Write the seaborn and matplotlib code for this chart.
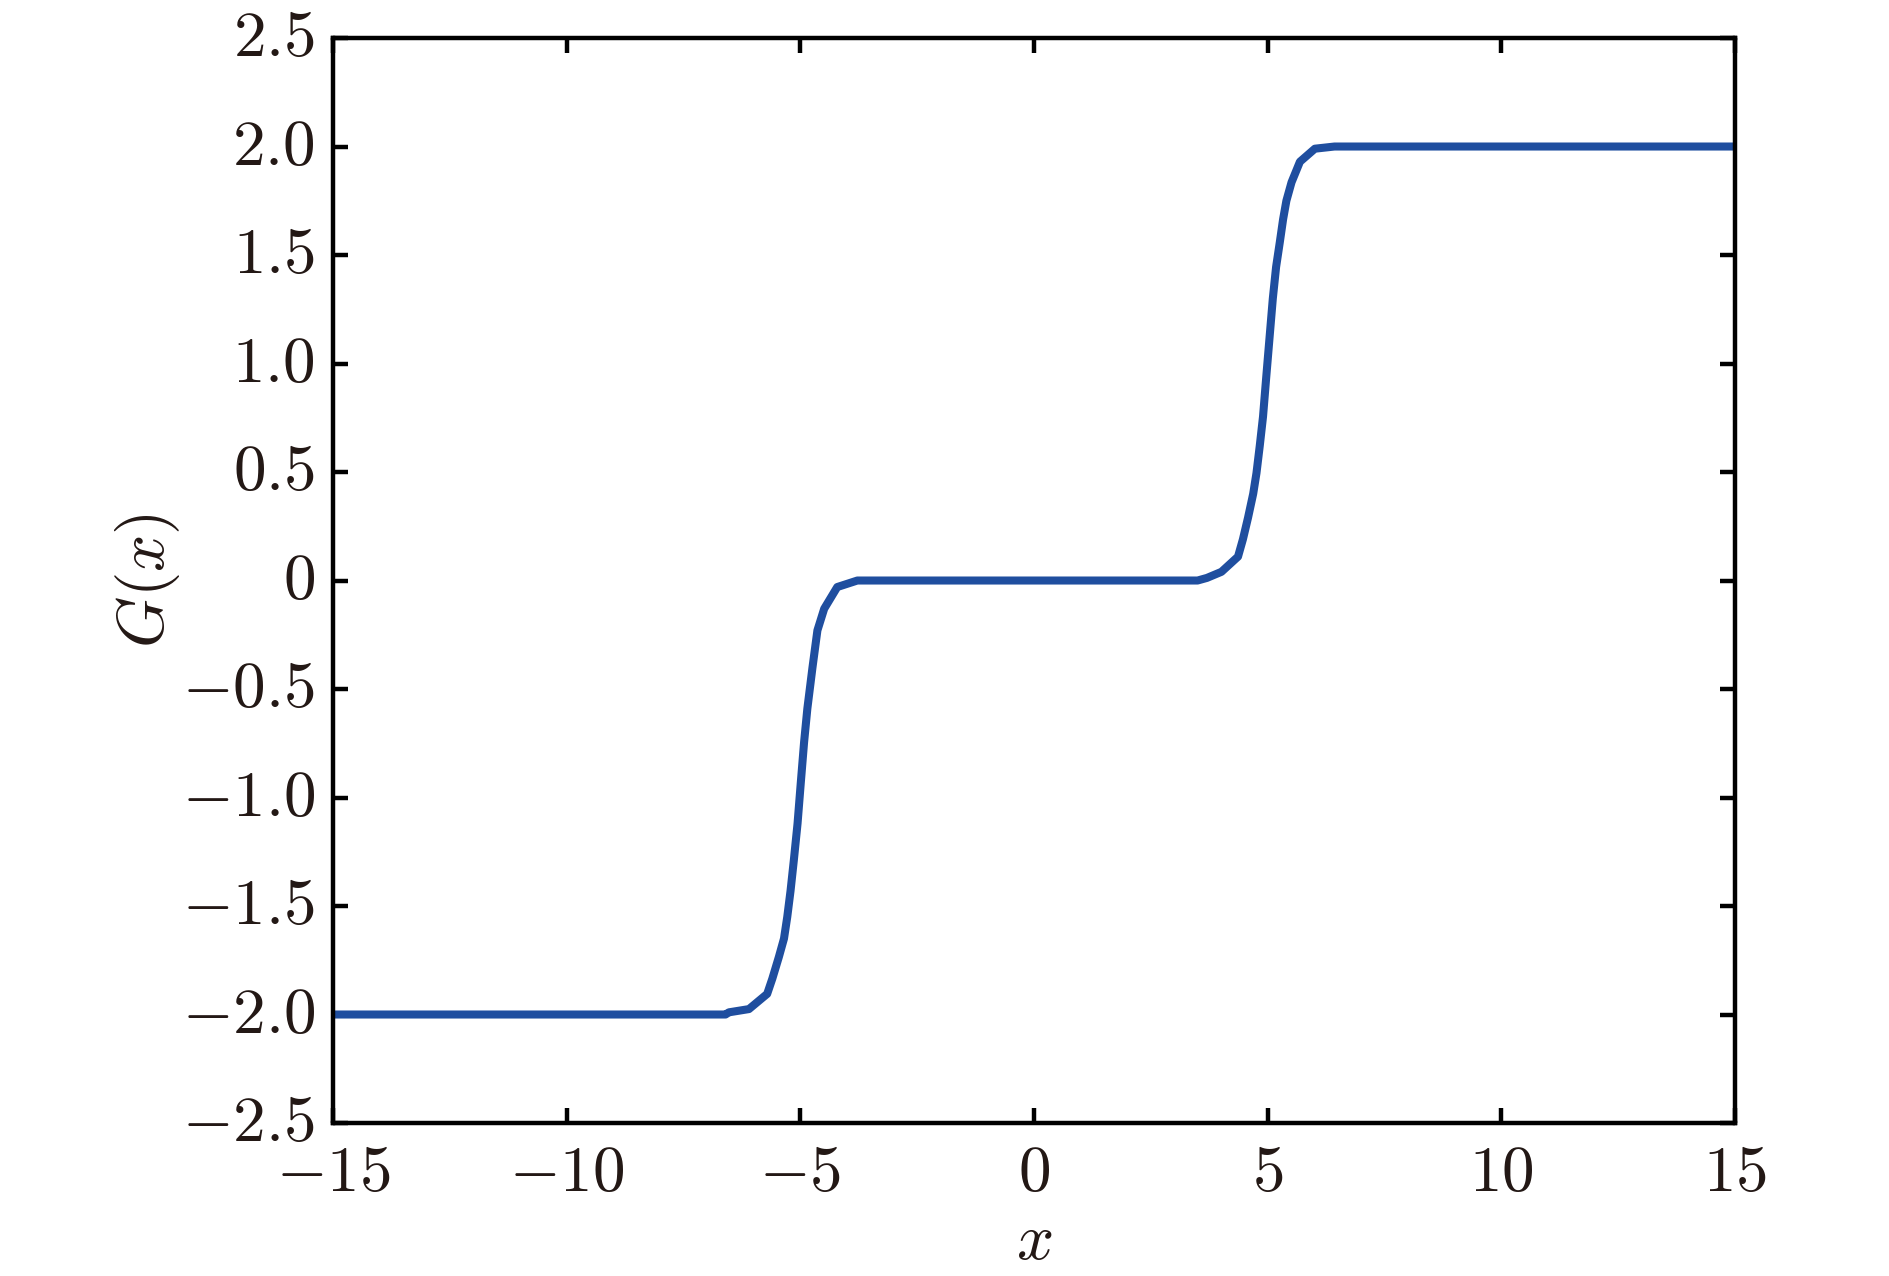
import seaborn as sns
import matplotlib.pyplot as plt
import pandas as pd

# G(x)
x_vals = [-15.0, -10.0, -6.6, -6.53, -6.10, -5.71, -5.60, -5.46, -5.35, -5.28, -5.21,
          -5.14, -5.06, -4.99, -4.92, -4.85, -4.74, -4.635, -4.49, -4.21, -3.78,
          -1.0, 3.5, 3.7, 4.01, 4.365, 4.47, 4.58, 4.69, 4.76, 4.83, 4.90, 4.97,
          5.04, 5.11, 5.18, 5.26, 5.33, 5.40, 5.51, 5.69, 6.01, 6.43, 10.0, 15.0]
g_vals = [-2.0, -2.0, -2.0, -1.99, -1.975, -1.905, -1.835, -1.735, -1.65, -1.55, -1.43,
          -1.29, -1.12, -0.93, -0.745, -0.59, -0.40, -0.23, -0.13, -0.03, 0.0,
          0.0, 0.0, 0.012, 0.04, 0.11, 0.19, 0.29, 0.40, 0.495, 0.62, 0.755, 0.94,
          1.12, 1.30, 1.445, 1.56, 1.665, 1.75, 1.835, 1.93, 1.99, 2.0, 2.0, 2.0]

x_ticks = [-15, -10, -5, 0, 5, 10, 15]
y_ticks = [-2.5, -2.0, -1.5, -1.0, -0.5, 0, 0.5, 1.0, 1.5, 2.0, 2.5]
y_tick_labels = ['-2.5', '-2.0', '-1.5', '-1.0', '-0.5', '0', '0.5', '1.0', '1.5', '2.0', '2.5']

sns.set_style("ticks")
plt.rcParams['mathtext.fontset'] = 'cm'
plt.rcParams['font.family'] = ['DejaVu Serif']

text_color = '#231815'
fs = 47
df = pd.DataFrame({'x': x_vals, 'G': g_vals})

fig = plt.figure(figsize=(18.9, 12.76), dpi=100)
ax = fig.add_axes([0.1762, 0.1199, 0.918 - 0.1762, 0.9702 - 0.1199])
sns.lineplot(data=df, x='x', y='G', ax=ax, sort=False, estimator=None,
             color='#1f4e9f', linewidth=5.8)

ax.set_xlim(-15, 15)
ax.set_ylim(-2.5, 2.5)
ax.set_xticks(x_ticks)
ax.set_xticklabels([f'${v}$' for v in x_ticks])
ax.set_yticks(y_ticks)
ax.set_yticklabels([f'${v}$' for v in y_tick_labels], va='center')
ax.tick_params(direction='in', top=True, right=True, length=10.8, width=3.2,
               labelsize=fs, labelcolor=text_color, color='black')
ax.tick_params(axis='x', pad=13)
ax.tick_params(axis='y', pad=13)
for sp in ax.spines.values():
    sp.set_linewidth(3.2)
    sp.set_color('black')

ax.set_xlabel('$x$', fontsize=fs, color=text_color, labelpad=3)
ax.set_ylabel('$G(x)$', fontsize=fs, color=text_color, labelpad=0)

fig.savefig('out.png', dpi=100)
